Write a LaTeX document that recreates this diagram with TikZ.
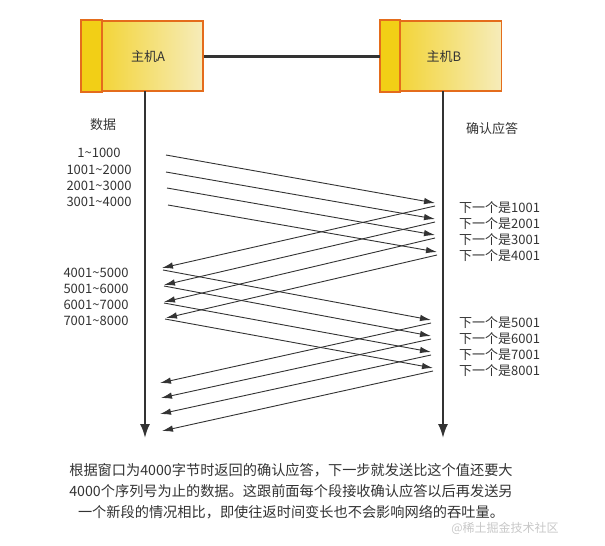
\documentclass[tikz,border=0pt]{standalone}
\usepackage{fontspec}
\setmainfont{Noto Sans CJK SC}
\usetikzlibrary{arrows.meta}
\definecolor{ink}{HTML}{333333}
\definecolor{boxedge}{HTML}{E46C1C}
\definecolor{boxleft}{HTML}{F2D020}
\definecolor{boxright}{HTML}{F6ECBA}
\definecolor{stripfill}{HTML}{F2CF16}
\definecolor{wm}{HTML}{C8C8C8}
\begin{document}
\begin{tikzpicture}[x=1pt,y=-1pt,
  hostbox/.style={draw=boxedge, line width=1.6pt, left color=boxleft, right color=boxright,
    minimum width=121pt, minimum height=70pt, inner sep=0pt},
  stripbox/.style={draw=boxedge, line width=1.6pt, fill=stripfill},
  hostlabel/.style={text=ink, font=\fontsize{13}{15}\selectfont, inner sep=0pt},
  link/.style={draw=ink, line width=3pt},
  life/.style={draw=ink, line width=2pt, -{Latex[length=14pt,width=10pt]}},
  msg/.style={draw=ink, line width=0.9pt, -{Latex[length=11pt,width=6.5pt]}},
  lbl/.style={text=ink, font=\fontsize{13}{15}\selectfont, inner sep=0pt},
  note/.style={text=ink, font=\fontsize{14.2}{21}\selectfont, align=center, inner sep=0pt},
  wmtext/.style={text=wm, font=\fontsize{12}{14}\selectfont, inner sep=0pt}
]
\useasboundingbox (0,0) rectangle (605,546);
\fill[white] (0,0) rectangle (605,546);

% hosts
\node[hostbox] (A) at (142.5,56) {};
\draw[stripbox] (A.north west) rectangle ([xshift=21pt]A.south west);
\node[hostlabel] (Alab) at (148,57) {主机A};
\node[hostbox] (B) at (441,56) {};
\draw[stripbox] (B.north west) rectangle ([xshift=20pt]B.south west);
\node[hostlabel] (Blab) at (444,57) {主机B};
\draw[link] (A.east) -- (B.west);

% lifelines
\coordinate (Atop) at (145,91);
\coordinate (Abot) at (145,438);
\coordinate (Btop) at (443,91);
\coordinate (Bbot) at (443,438);
\draw[life] (Atop) -- (Abot);
\draw[life] (Btop) -- (Bbot);

% headings
\node[lbl] (hdata) at (103,125) {数据};
\node[lbl] (hack) at (492,129) {确认应答};

% left labels
\node[lbl] (l1) at (99,153) {1\textasciitilde 1000};
\node[lbl] (l2) at (99,170) {1001\textasciitilde 2000};
\node[lbl] (l3) at (99,186) {2001\textasciitilde 3000};
\node[lbl] (l4) at (99,202) {3001\textasciitilde 4000};
\node[lbl] (l5) at (96,273) {4001\textasciitilde 5000};
\node[lbl] (l6) at (96,289) {5001\textasciitilde 6000};
\node[lbl] (l7) at (96,305) {6001\textasciitilde 7000};
\node[lbl] (l8) at (96,321) {7001\textasciitilde 8000};

% right labels
\node[lbl, anchor=west] (r1) at (459,208) {下一个是1001};
\node[lbl, anchor=west] (r2) at (459,224) {下一个是2001};
\node[lbl, anchor=west] (r3) at (459,240) {下一个是3001};
\node[lbl, anchor=west] (r4) at (459,256) {下一个是4001};
\node[lbl, anchor=west] (r5) at (459,323) {下一个是5001};
\node[lbl, anchor=west] (r6) at (459,339) {下一个是6001};
\node[lbl, anchor=west] (r7) at (459,355) {下一个是7001};
\node[lbl, anchor=west] (r8) at (459,371) {下一个是8001};

% data segments
\foreach \sx/\sy/\ex/\ey [count=\i] in
  {166/155/435/203, 166/172/435/219, 167/188/435/235, 168/205/437/252,
   163/270/431/320, 164/286/431/336, 164/303/431/352, 165/319/433/368} {
  \coordinate (ds\i) at (\sx,\sy);
  \coordinate (de\i) at (\ex,\ey);
  \draw[msg] (ds\i) -- (de\i);
}
% acknowledgements
\foreach \sx/\sy/\ex/\ey [count=\i] in
  {435/206/162/268, 435/222/164/285, 435/238/164/302, 437/255/166/318,
   431/323/160/383, 431/339/161/398, 431/355/160/414, 433/371/162/431} {
  \coordinate (as\i) at (\sx,\sy);
  \coordinate (ae\i) at (\ex,\ey);
  \draw[msg] (as\i) -- (ae\i);
}

% note
\node[note] (txt) at (291,491) {根据窗口为4000字节时返回的确认应答，下一步就发送比这个值还要大\\4000个序列号为止的数据。这跟前面每个段接收确认应答以后再发送另\\一个新段的情况相比，即使往返时间变长也不会影响网络的吞吐量。};
\node[wmtext] (wmk) at (505,528) {@稀土掘金技术社区};
\end{tikzpicture}
\end{document}
